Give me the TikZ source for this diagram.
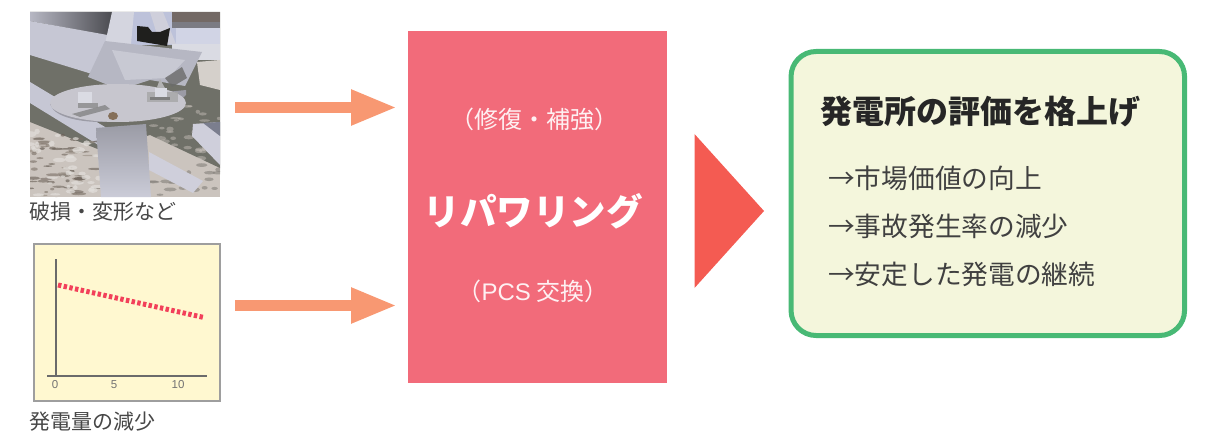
\documentclass[tikz,border=0pt]{standalone}
\usepackage{fontspec}
\setmainfont{Noto Sans CJK JP}
\newfontfamily\latinf{Liberation Sans}
\usetikzlibrary{arrows.meta,calc}
\definecolor{pinkbox}{HTML}{F26B7A}
\definecolor{arrowc}{HTML}{F89872}
\definecolor{tri}{HTML}{F45B52}
\definecolor{greenb}{HTML}{48B975}
\definecolor{greenf}{HTML}{F4F6DC}
\definecolor{chartf}{HTML}{FFF8D0}
\definecolor{beam}{HTML}{C6C7D4}
\definecolor{dirt}{HTML}{6F7068}
\definecolor{gravel}{HTML}{CBC4BE}
\definecolor{skyc}{HTML}{BDC2DA}
\definecolor{reddash}{HTML}{F2405A}
\tikzset{
  lbl/.style={inner sep=0pt,anchor=base west,text=black!72,font=\fontsize{21}{24}\selectfont},
  bodyt/.style={inner sep=0pt,anchor=base west,text=black!75,font=\fontsize{26.7}{30}\selectfont},
  titlet/.style={inner sep=0pt,anchor=base west,text=black!85,font=\bfseries\fontsize{32}{36}\selectfont},
  sub/.style={inner sep=0pt,anchor=base,text=white!90!pinkbox,font=\fontsize{24}{27}\selectfont},
  blockarrow/.style={arrowc,line width=11pt,-{Triangle[length=46pt,width=33pt]}},
  tick/.style={inner sep=0pt,anchor=base,text=black!55,font=\latinf\fontsize{11.5}{13}\selectfont}
}
\begin{document}
\begin{tikzpicture}[x=1pt,y=-1pt]
\useasboundingbox (0,0) rectangle (1218,433);
% ---------- photo
\begin{scope}
\clip (30,12) rectangle (220,197);
\fill[gravel] (30,12) rectangle (220,197);
\fill[dirt] (30,12) -- (220,12) -- (220,168) -- (150,135) -- (100,150) -- (30,122) -- cycle;
\shade[left color=black!8!beam,right color=black!62!beam] (30,12) -- (112,12) -- (112,36) -- (30,21) -- cycle;
% upper beam
\fill[beam] (30,21) -- (113,36) -- (92,74) -- (30,55) -- cycle;
% lower-left beam
\fill[beam] (30,82) -- (110,130) -- (100,146) -- (30,103) -- cycle;
% sky, right band
\fill[skyc] (125,12) rectangle (176,45);
\fill[black!48!beam!92!orange] (172,12) rectangle (220,22);
\fill[black!38!beam] (172,22) rectangle (220,28);
\fill[skyc!70!white] (176,28) rectangle (220,44);
\fill[beam!65!white] (172,44) rectangle (220,60);
% struts
\fill[beam!75!white] (112,12) -- (134,12) -- (131,44) -- (105,44) -- cycle;
\fill[beam!85!white] (150,12) -- (163,12) -- (176,44) -- (160,44) -- cycle;
% bracket
\fill[black!72!dirt] (137,26) -- (148,27) -- (152,32) -- (160,32) -- (170,28) -- (167,46) -- (137,41) -- cycle;
% angled plate
\fill[beam!92!black] (105,41) -- (202,52) -- (185,86) -- (150,80) -- (125,88) -- (108,85) -- (88,77) -- cycle;
\fill[beam!75!white,opacity=.6] (112,50) -- (185,60) -- (168,78) -- (125,80) -- cycle;
\fill[black!58,opacity=.8] (172,87) -- (187,78) -- (182,67) -- (165,78) -- cycle;
% right gravel
\fill[gravel!80!white] (197,62) -- (220,60) -- (220,90) -- (200,85) -- cycle;
% gravel blobs
\pgfmathsetseed{11}
\foreach \i in {1,...,60}{
  \pgfmathsetmacro{\bx}{30+rnd*72}
  \pgfmathsetmacro{\by}{128+rnd*69+(\bx-30)*0.18}
  \pgfmathsetmacro{\ba}{rnd*6+2}
  \pgfmathsetmacro{\bb}{rnd*1.2+.6}
  \pgfmathsetmacro{\bs}{rnd*35+25}
  \fill[black!\bs!gravel!90!brown,opacity=.65] (\bx,\by) ellipse [x radius=\ba,y radius=\bb];
}
\foreach \i in {1,...,40}{
  \pgfmathsetmacro{\bx}{30+rnd*72}
  \pgfmathsetmacro{\by}{130+rnd*65+(\bx-30)*0.18}
  \pgfmathsetmacro{\ba}{rnd*5+2}
  \pgfmathsetmacro{\bb}{rnd*2+1}
  \fill[white!45!gravel,opacity=.7] (\bx,\by) ellipse [x radius=\ba,y radius=\bb];
}
\foreach \i in {1,...,35}{
  \pgfmathsetmacro{\bx}{152+rnd*68}
  \pgfmathsetmacro{\by}{105+rnd*55}
  \pgfmathsetmacro{\ba}{rnd*4+2}
  \pgfmathsetmacro{\bb}{rnd*1.5+1}
  \fill[gravel,opacity=.45] (\bx,\by) ellipse [x radius=\ba,y radius=\bb];
}
\foreach \i in {1,...,25}{
  \pgfmathsetmacro{\bx}{150+rnd*70}
  \pgfmathsetmacro{\by}{165+rnd*32}
  \pgfmathsetmacro{\ba}{rnd*5+2}
  \pgfmathsetmacro{\bb}{rnd*1.5+1}
  \fill[black!35!gravel,opacity=.6] (\bx,\by) ellipse [x radius=\ba,y radius=\bb];
}
% beam right of post, right lower beam
\fill[beam!85!white] (149,152) -- (203,181) -- (193,193) -- (149,170) -- cycle;
\fill[beam!85!white] (193,124) -- (220,122) -- (220,165) -- (192,136) -- cycle;
\fill[black!35!skyc] (203,123) -- (220,122) -- (220,136) -- cycle;
% post
\shade[top color=black!22!beam,bottom color=beam!92!white] (96,128) -- (146,124) -- (151,197) -- (101,197) -- cycle;
% round plate
\fill[black!22!beam] (51,106) .. controls (60,128) and (150,130) .. (186,95) -- (186,90) -- (50,104) -- cycle;
\fill[beam!70!gravel] (118,103) ellipse [x radius=68,y radius=19];
% bolts
\fill[black!50,opacity=.75] (72,114) -- (105,105) -- (110,109) -- (80,117) -- cycle;
\fill[black!35,opacity=.8] (147,92) rectangle (178,102);
\fill[black!30] (160,79) -- (156,90) -- (166,90) -- cycle;
\fill[beam!65!white] (78,92) rectangle (92,103);
\fill[black!45,opacity=.8] (78,103) rectangle (98,108);
\fill[beam!65!white] (155,88) rectangle (167,97);
\fill[black!55,opacity=.8] (150,97) rectangle (170,100);
\fill[black!45!gravel!85!orange] (113,116) ellipse [x radius=5,y radius=4];
\end{scope}
\node[lbl] (photolabel) at (29,219) {破損・変形など};
% ---------- chart
\node[draw=black!38,line width=2pt,fill=chartf,inner sep=0pt,minimum width=186pt,minimum height=157pt] (chart) at (126.5,322.5) {};
\coordinate (ytop) at (55.5,259);
\coordinate (ybot) at (55.5,375.5);
\coordinate (xl) at (47,375.5);
\coordinate (xr) at (207,375.5);
\draw[black!58,line width=2pt] (ytop) -- (ybot);
\draw[black!58,line width=2pt] (xl) -- (xr);
\coordinate (rs) at (58,285);
\coordinate (re) at (204,317.5);
\draw[draw=reddash,line width=5pt,dash pattern=on 3.4pt off 2.4pt] (rs) -- (re);
\node[tick] (t0) at (55,388) {0};
\node[tick] (t5) at (114,388) {5};
\node[tick] (t10) at (178,388) {10};
\node[lbl] (chartlabel) at (29,429) {発電量の減少};
% ---------- arrows
\coordinate (a1s) at (235,107.5);
\coordinate (a1e) at (397,107.5);
\coordinate (a2s) at (235,305.5);
\coordinate (a2e) at (397,305.5);
\draw[blockarrow] (a1s) -- (a1e);
\draw[blockarrow] (a2s) -- (a2e);
% ---------- pink box
\node[fill=pinkbox,inner sep=0pt,minimum width=259pt,minimum height=352.5pt] (repower) at (537.2,207.2) {};
\node[sub] (s1) at (534,129) {（修復・補強）};
\node[inner sep=0pt,anchor=base,text=white,font=\bfseries\fontsize{36.5}{40}\selectfont] (s2) at (533,225) {リパワリング};
\node[sub] (s3) at (533,300) {（{\latinf PCS} 交換）};
% ---------- triangle
\coordinate (t1) at (694.5,134);
\coordinate (t2) at (764,211);
\coordinate (t3) at (694.5,288);
\fill[tri] (t1) -- (t2) -- (t3) -- cycle;
% ---------- green box
\node[draw=greenb,fill=greenf,line width=5pt,rounded corners=25pt,inner sep=0pt,minimum width=393.5pt,minimum height=284pt] (result) at (987.8,193.5) {};
\node[titlet] (ti) at (820.5,124) {発電所の評価を格上げ};
\node[bodyt] (b1) at (828,188) {→市場価値の向上};
\node[bodyt] (b2) at (828,236) {→事故発生率の減少};
\node[bodyt] (b3) at (828,284) {→安定した発電の継続};
\end{tikzpicture}
\end{document}
